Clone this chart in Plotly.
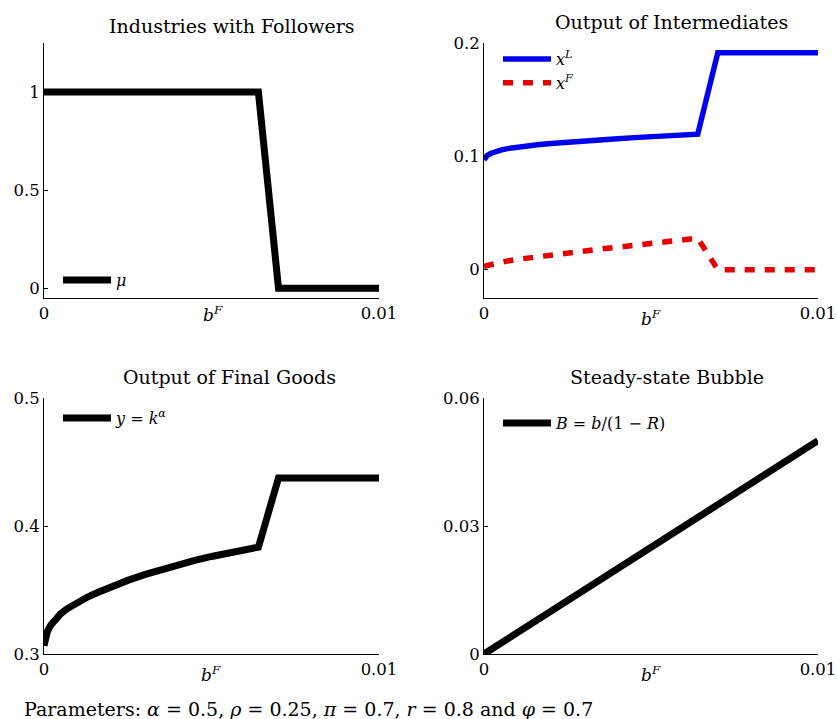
import plotly.graph_objects as go
from plotly.subplots import make_subplots

# bubble size b^F (horizontal axis shared by all panels)
b_grid = [0.0, 0.00005, 0.0001, 0.0002, 0.0003, 0.0004, 0.0005, 0.0007, 0.001,
          0.0013, 0.0016, 0.002, 0.0025, 0.003, 0.0035, 0.004, 0.0045, 0.005,
          0.0055, 0.006, 0.0064, 0.0070, 0.008, 0.009, 0.01]

# share of industries with followers
mu = [1, 1, 1, 1, 1, 1, 1, 1, 1, 1, 1, 1, 1, 1, 1, 1, 1, 1, 1, 1, 1,
      0, 0, 0, 0]

# output of intermediates: leaders and followers
x_leader = [0.097, 0.099, 0.1008, 0.1025, 0.1037, 0.1047, 0.1055, 0.1068, 0.1083,
            0.1094, 0.1103, 0.1114, 0.1127, 0.1137, 0.1146, 0.1155, 0.1165, 0.1174,
            0.1182, 0.1189, 0.1195, 0.1915, 0.1915, 0.1915, 0.1915]
x_follower = [0.003, 0.0034, 0.0038, 0.0045, 0.0052, 0.0059, 0.0065, 0.0077, 0.0091,
              0.0103, 0.0114, 0.0128, 0.0148, 0.0168, 0.0183, 0.0198, 0.0216, 0.0233,
              0.0249, 0.0265, 0.0278, 0.0, 0.0, 0.0, 0.0]

# output of final goods
y_final = [0.3065, 0.313, 0.3175, 0.3225, 0.326, 0.329, 0.3315, 0.3355, 0.3405,
           0.3445, 0.348, 0.3525, 0.3575, 0.362, 0.366, 0.3697, 0.3731, 0.3762,
           0.379, 0.3816, 0.3835, 0.4375, 0.4375, 0.4375, 0.4375]

# steady-state bubble
b_bubble = [0.0, 0.01]
bubble = [0.0, 0.05]

FONT = "DejaVu Serif"
W, H = 837, 719

fig = make_subplots(rows=2, cols=2)

fig.add_trace(go.Scatter(x=b_grid, y=mu, mode="lines", name="<i>μ</i>",
                         line=dict(color="black", width=7), legend="legend"),
              row=1, col=1)
fig.add_trace(go.Scatter(x=b_grid, y=x_leader, mode="lines",
                         name="<i>x</i><sup><i>L</i></sup>",
                         line=dict(color="#0000ee", width=5.5), legend="legend2"),
              row=1, col=2)
fig.add_trace(go.Scatter(x=b_grid, y=x_follower, mode="lines",
                         name="<i>x</i><sup><i>F</i></sup>",
                         line=dict(color="#e60000", width=5.5, dash="10px,10px"),
                         legend="legend2"),
              row=1, col=2)
fig.add_trace(go.Scatter(x=b_grid, y=y_final, mode="lines",
                         name="<i>y</i> = <i>k</i><sup><i>α</i></sup>",
                         line=dict(color="black", width=7), legend="legend3"),
              row=2, col=1)
fig.add_trace(go.Scatter(x=b_bubble, y=bubble, mode="lines",
                         name="<i>B</i> = <i>b</i>/(1 − <i>R</i>)",
                         line=dict(color="black", width=7), legend="legend4"),
              row=2, col=2)


def px_x(p):
    return p / W


def px_y(p):
    return 1 - p / H


col_dom = [[px_x(44), px_x(379)], [px_x(484), px_x(818)]]
row_dom = [[px_y(298), px_y(43)], [px_y(654), px_y(398)]]

y_ranges = [[-0.05, 1.25], [-0.025, 0.2], [0.3, 0.5], [0.0, 0.06]]
y_ticks = [([0, 0.5, 1], ["0", "0.5", "1"]),
           ([0, 0.1, 0.2], ["0", "0.1", "0.2"]),
           ([0.3, 0.4, 0.5], ["0.3", "0.4", "0.5"]),
           ([0, 0.03, 0.06], ["0", "0.03", "0.06"])]

axis_common = dict(showline=True, linecolor="black", linewidth=1,
                   ticks="inside", ticklen=4, tickcolor="black", tickwidth=1,
                   showgrid=False, zeroline=False, automargin=False,
                   tickfont=dict(family=FONT, size=16.5, color="black"))

for i in range(4):
    r, c = divmod(i, 2)
    sfx = "" if i == 0 else str(i + 1)
    fig.layout["xaxis" + sfx].update(domain=col_dom[c], range=[0, 0.01],
                                     tickvals=[0, 0.01], ticktext=["0", "0.01"],
                                     **axis_common)
    fig.layout["yaxis" + sfx].update(domain=row_dom[r], range=y_ranges[i],
                                     tickvals=y_ticks[i][0], ticktext=y_ticks[i][1],
                                     **axis_common)

titles = [("Industries with Followers", 232, 26),
          ("Output of Intermediates", 671, 22),
          ("Output of Final Goods", 229, 377),
          ("Steady-state Bubble", 667, 377)]
annotations = []
for text, xc, yc in titles:
    annotations.append(dict(text=text, x=px_x(xc), y=px_y(yc), xref="paper",
                            yref="paper", xanchor="center", yanchor="middle",
                            showarrow=False,
                            font=dict(family=FONT, size=19, color="black")))

for xc, yc in [(213, 314), (651, 318), (211, 674), (651, 674)]:
    annotations.append(dict(text="<i>b</i><sup><i>F</i></sup>", x=px_x(xc),
                            y=px_y(yc), xref="paper", yref="paper",
                            xanchor="center", yanchor="middle", showarrow=False,
                            font=dict(family=FONT, size=17, color="black")))

annotations.append(dict(
    text="Parameters: <i>α</i> = 0.5, <i>ρ</i> = 0.25, <i>π</i> = 0.7, "
         "<i>r</i> = 0.8 and <i>φ</i> = 0.7",
    x=px_x(22), y=px_y(709), xref="paper", yref="paper", xanchor="left",
    yanchor="middle", showarrow=False,
    font=dict(family=FONT, size=19, color="black")))

legend_common = dict(bgcolor="rgba(0,0,0,0)", borderwidth=0, itemwidth=48,
                     xanchor="left", yanchor="middle",
                     font=dict(family=FONT, size=16, color="black"))

fig.update_layout(
    width=W, height=H,
    margin=dict(l=0, r=0, t=0, b=0, autoexpand=False),
    paper_bgcolor="white", plot_bgcolor="white",
    font=dict(family=FONT, color="black"),
    showlegend=True,
    annotations=annotations,
    legend=dict(x=px_x(58), y=px_y(280), **legend_common),
    legend2=dict(x=px_x(498), y=px_y(71), **legend_common),
    legend3=dict(x=px_x(58), y=px_y(418), **legend_common),
    legend4=dict(x=px_x(498), y=px_y(423), **legend_common),
)

fig.write_html("out.html")
